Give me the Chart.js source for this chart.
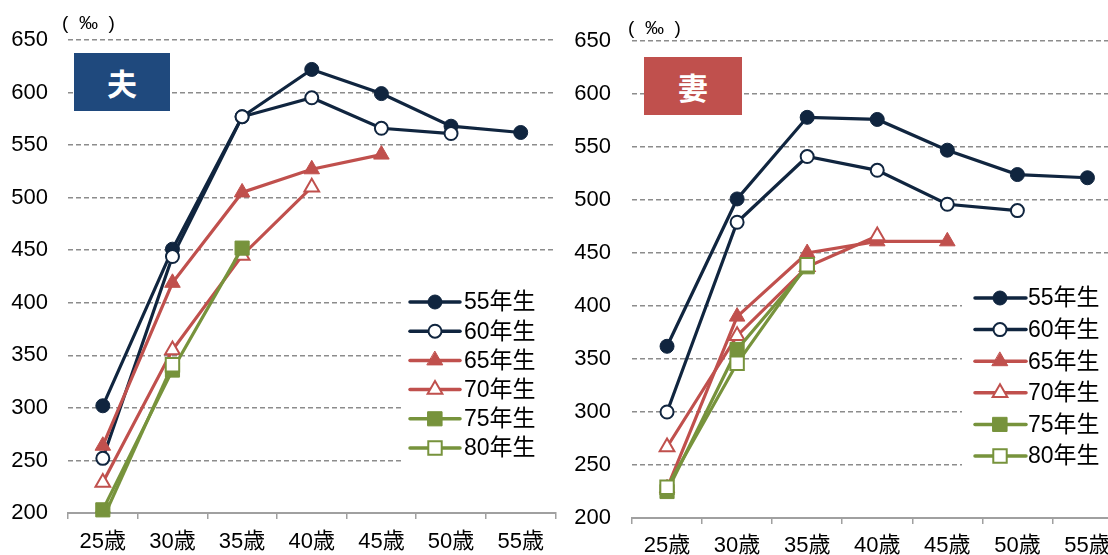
<!DOCTYPE html>
<html>
<head>
<meta charset="utf-8">
<script src="https://cdn.jsdelivr.net/npm/chart.js@4/dist/chart.umd.min.js"></script>
<style>
  html, body { margin: 0; padding: 0; background: #fff; }
  body { position: relative; width: 1108px; height: 555px; overflow: hidden; }
  .panel { position: absolute; top: 0; height: 555px; }
  #leftPanel { left: 0; width: 567px; }
  #rightPanel { left: 560px; width: 574px; }
  .unit { position: absolute; font: 19px "Liberation Sans", "Noto Sans CJK JP", sans-serif; color: #000; line-height: 1; white-space: pre; }
  .tag { position: absolute; color: #fff; font: bold 30px "Noto Sans CJK JP", sans-serif; display: flex; align-items: center; justify-content: center; }
</style>
</head>
<body>
<div class="panel" id="leftPanel"><canvas id="husband"></canvas></div>
<div class="panel" id="rightPanel"><canvas id="wife"></canvas></div>
<div class="unit" style="left:62px; top:13px;">(  ‰  )</div>
<div class="unit" style="left:628px; top:18px;">(  ‰  )</div>
<div class="tag" style="left:74px; top:53px; width:96px; height:58px; background:#1f497d;">夫</div>
<div class="tag" style="left:644px; top:57px; width:98px; height:58px; background:#c0504d;">妻</div>
<script>
// Age groups on the x axis and birth cohorts in the legend
const ages = ['25歳', '30歳', '35歳', '40歳', '45歳', '50歳', '55歳'];
const cohorts = ['55年生', '60年生', '65年生', '70年生', '75年生', '80年生'];
const yTicks = [200, 250, 300, 350, 400, 450, 500, 550, 600, 650];

// 夫 (husbands), ‰
const husband55 = [302, 451, 577, 622, 599, 568, 562];
const husband60 = [252, 444, 577, 595, 566, 561, null];
const husband65 = [264, 419, 505, 527, 541, null, null];
const husband70 = [229, 355, 445, 510, null, null, null];
const husband75 = [203, 336, 452, null, null, null, null];
const husband80 = [194, 341, null, null, null, null, null];

// 妻 (wives), ‰
const wife55 = [362, 501, 578, 576, 547, 524, 521];
const wife60 = [300, 479, 541, 528, 496, 490, null];
const wife65 = [228, 390, 450, 461, 461, null, null];
const wife70 = [267, 372, 437, 466, null, null, null];
const wife75 = [225, 359, 437, null, null, null, null];
const wife80 = [229, 346, 439, null, null, null, null];

const NAVY = '#10253f', RED = '#c0504d', GREEN = '#77933c';
const styles = [
  { color: NAVY,  pointStyle: 'circle',   radius: 7,   fill: NAVY,  bw: 1 },
  { color: NAVY,  pointStyle: 'circle',   radius: 6.5, fill: '#fff', bw: 2 },
  { color: RED,   pointStyle: 'triangle', radius: 9,   fill: RED,   bw: 1 },
  { color: RED,   pointStyle: 'triangle', radius: 8.5, fill: '#fff', bw: 2 },
  { color: GREEN, pointStyle: 'rect',     radius: 10,  fill: GREEN, bw: 1 },
  { color: GREEN, pointStyle: 'rect',     radius: 9.5, fill: '#fff', bw: 2 }
];

function buildDatasets(series, clipFirstCohortBelowAxis) {
  return series.map((values, i) => ({
    label: cohorts[i],
    data: values,
    borderColor: styles[i].color,
    backgroundColor: styles[i].fill,
    borderWidth: 3.2,
    pointStyle: styles[i].pointStyle,
    pointRadius: styles[i].radius,
    pointBackgroundColor: styles[i].fill,
    pointBorderColor: styles[i].color,
    pointBorderWidth: styles[i].bw,
    tension: 0,
    fill: false,
    order: 10 - i,                       // later cohorts drawn on top
    clip: (clipFirstCohortBelowAxis && i === 5) ? undefined : false
  }));
}

// Legend drawn inside the plot area on a white panel
const cohortLegend = {
  id: 'cohortLegend',
  beforeDatasetsDraw(chart, args, opts) {
    const ctx = chart.ctx;
    ctx.save();
    ctx.fillStyle = '#fff';
    ctx.fillRect(opts.box[0], opts.box[1], opts.box[2] - opts.box[0], opts.box[3] - opts.box[1]);
    chart.data.datasets.forEach((ds, i) => {
      const y = opts.y0 + i * opts.step;
      ctx.strokeStyle = ds.borderColor;
      ctx.lineWidth = 3.5;
      ctx.lineCap = 'round';
      ctx.beginPath();
      ctx.moveTo(opts.lineX[0], y);
      ctx.lineTo(opts.lineX[1], y);
      ctx.stroke();
      ctx.fillStyle = ds.pointBackgroundColor;
      ctx.strokeStyle = ds.pointBorderColor;
      ctx.lineWidth = ds.pointBorderWidth;
      Chart.helpers.drawPoint(ctx, {
        pointStyle: ds.pointStyle, radius: ds.pointRadius, rotation: 0, borderWidth: ds.pointBorderWidth
      }, opts.markerX, y);
      ctx.fillStyle = '#000';
      ctx.font = opts.fontSize + 'px "Liberation Sans", "Noto Sans CJK JP", sans-serif';
      ctx.textAlign = 'left';
      ctx.textBaseline = 'middle';
      ctx.fillText(ds.label, opts.textX, y + 1);
    });
    ctx.restore();
  }
};

function makeChart(canvasId, series, layout) {
  return new Chart(document.getElementById(canvasId), {
    type: 'line',
    data: { labels: ages, datasets: buildDatasets(series, layout.clipHidden) },
    plugins: [cohortLegend],
    options: {
      responsive: true,
      maintainAspectRatio: false,
      animation: false,
      events: [],
      layout: { padding: { top: layout.top, right: layout.right, left: 0, bottom: 0 } },
      plugins: {
        legend: { display: false },
        tooltip: { enabled: false },
        cohortLegend: layout.legend
      },
      scales: {
        x: {
          type: 'category',
          offset: true,
          grid: { display: true, offset: true, drawOnChartArea: false, drawTicks: true, tickLength: 6, color: '#a0a0a0', lineWidth: 1.5 },
          border: { display: true, color: '#a0a0a0', width: 2 },
          ticks: { color: '#000', padding: layout.xPad, maxRotation: 0, autoSkip: false,
                   font: { family: '"Liberation Sans", "Noto Sans CJK JP", sans-serif', size: 22 } },
          afterFit(scale) { scale.height = layout.xHeight; }
        },
        y: {
          min: yTicks[0],
          max: yTicks[yTicks.length - 1],
          afterBuildTicks(scale) { scale.ticks = yTicks.map(v => ({ value: v })); },
          grid: { color: '#8c8c8c', lineWidth: 1.5, drawTicks: false },
          border: { display: false, dash: [5, 3] },
          ticks: { color: '#000', padding: layout.yPad,
                   font: { family: '"Liberation Sans", sans-serif', size: 22 } },
          afterFit(scale) { scale.width = layout.yWidth; }
        }
      }
    }
  });
}

makeChart('husband',
  [husband55, husband60, husband65, husband70, husband75, husband80],
  {
    top: 40, right: 2, xHeight: 42, xPad: 10, yWidth: 68, yPad: 20, clipHidden: true,
    legend: { box: [403, 282, 556, 472], lineX: [410, 460], markerX: 435, textX: 464, y0: 302, step: 29.2, fontSize: 23 }
  });

makeChart('wife',
  [wife55, wife60, wife65, wife70, wife75, wife80],
  {
    top: 41, right: 1, xHeight: 37, xPad: 9, yWidth: 72, yPad: 21, clipHidden: false,
    legend: { box: [402, 275, 574, 480], lineX: [415, 466], markerX: 440, textX: 468, y0: 298, step: 31.6, fontSize: 23 }
  });
</script>
</body>
</html>
